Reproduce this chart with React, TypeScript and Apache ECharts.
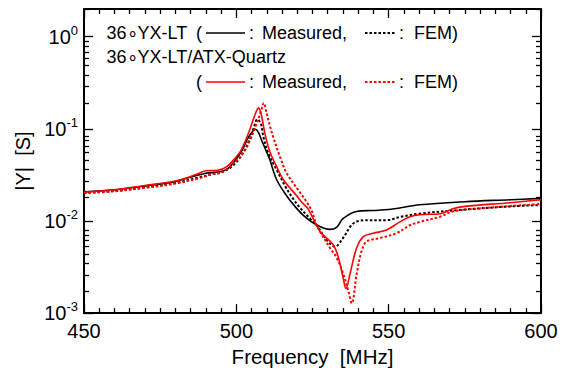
import React, { useEffect, useRef } from 'react';
import * as echarts from 'echarts';

const FONT = '"Liberation Sans", Arial, Helvetica, sans-serif';
const RED = '#ff0000';

const xMin = 450;
const xMax = 600;
const xStep = 50;
const yMin = 0.001;
const yMax = 2;
const yMajorTicks = [0.001, 0.01, 0.1, 1];
const yMinorTicks = [
  0.002, 0.003, 0.004, 0.005, 0.006, 0.007, 0.008, 0.009,
  0.02, 0.03, 0.04, 0.05, 0.06, 0.07, 0.08, 0.09,
  0.2, 0.3, 0.4, 0.5, 0.6, 0.7, 0.8, 0.9, 2,
];

// 36°YX-LT, measured
const ltMeasured = [
  [450, 0.0207], [460, 0.0218], [470, 0.024], [478, 0.026], [485, 0.0299], [490, 0.033],
  [494, 0.034], [497, 0.0366], [499.1, 0.0432], [501.8, 0.0578], [504, 0.0815], [505.6, 0.096],
  [506.3, 0.099], [507.2, 0.092], [508.3, 0.0751], [509.9, 0.0565], [511, 0.0461], [513.2, 0.0282],
  [516.5, 0.0188], [519, 0.0147], [522, 0.0115], [526, 0.0092], [530.7, 0.0081], [533, 0.0086],
  [535, 0.0106], [539.5, 0.0127], [545, 0.013], [550, 0.0133], [554, 0.0139], [560, 0.015],
  [575, 0.0162], [590, 0.017], [600, 0.0176],
];

// 36°YX-LT, FEM
const ltFem = [
  [450, 0.0202], [460, 0.0212], [470, 0.0231], [480, 0.0258], [488, 0.0299], [492, 0.0321],
  [495, 0.0335], [497, 0.0361], [499.1, 0.0406], [501.8, 0.0519], [504, 0.072], [505.6, 0.0998],
  [506.9, 0.127], [508.1, 0.113], [508.9, 0.0815], [510.5, 0.0542], [513.2, 0.0361], [516, 0.024],
  [518.7, 0.0173], [521, 0.0138], [524.2, 0.0106], [526.4, 0.009], [529.6, 0.00625], [532.4, 0.00527],
  [535, 0.00652], [538.4, 0.0094], [542.8, 0.0102], [549, 0.0102], [554, 0.0111], [560, 0.012],
  [575, 0.0133], [590, 0.0144], [600, 0.0149],
];

// 36°YX-LT/ATX-Quartz, measured
const quartzMeasured = [
  [450, 0.0205], [460, 0.0218], [470, 0.0243], [480, 0.0271], [487, 0.0321], [490, 0.0351],
  [494, 0.0355], [497, 0.0391], [499.1, 0.0461], [501.3, 0.0565], [502.8, 0.072], [504.5, 0.0998],
  [505.8, 0.133], [507.3, 0.169], [508.3, 0.138], [509.4, 0.0883], [511, 0.0565], [513.2, 0.0391],
  [515.4, 0.0282], [519.8, 0.0188], [522, 0.0153], [523.5, 0.0136], [525.2, 0.0106], [527.5, 0.00766],
  [531.8, 0.00553], [533.5, 0.004], [535, 0.00246], [536, 0.00184], [537.3, 0.00266], [539.5, 0.00511],
  [541.7, 0.00678], [545, 0.00736], [549.3, 0.00798], [553.7, 0.00977], [557, 0.0111], [560.3, 0.0117],
  [567, 0.012], [571, 0.0136], [575, 0.0144], [590, 0.0158], [600, 0.017],
];

// 36°YX-LT/ATX-Quartz, FEM
const quartzFem = [
  [450, 0.02], [460, 0.021], [470, 0.0229], [480, 0.0255], [488, 0.0292], [492, 0.0321],
  [495, 0.0338], [497, 0.0366], [499.1, 0.0424], [502.2, 0.0542], [504.5, 0.0751], [506.4, 0.108],
  [508.1, 0.156], [509, 0.191], [509.9, 0.15], [511, 0.108], [512.1, 0.0815], [514.3, 0.05],
  [516.5, 0.0332], [520.9, 0.0204], [523.1, 0.016], [524.7, 0.013], [526.4, 0.009], [530.7, 0.00511],
  [532.9, 0.004], [535.1, 0.00266], [536.7, 0.00177], [537.9, 0.00128], [539.5, 0.00266], [541.1, 0.0047],
  [542.8, 0.006], [547.1, 0.00652], [552.6, 0.00736], [557, 0.009], [560.3, 0.00977], [566.8, 0.0111],
  [571, 0.0127], [580, 0.0137], [590, 0.0145], [600, 0.0153],
];

const xTitle = 'Frequency  [MHz]';
const yTitle = '|Y|  [S]';
const legendRow1 = '36∘YX-LT';
const legendRow2 = '36∘YX-LT/ATX-Quartz';

const DOT: number[] = [2.5, 2];

export default function App() {
  const ref = useRef<HTMLDivElement>(null);
  useEffect(() => {
    if (!ref.current) return;
    const chart = echarts.init(ref.current, null, { renderer: 'svg' });
    const gridBox = { left: 84, top: 9, width: 457, height: 311 };
    const txt = (x: number, y: number, text: string) => ({
      type: 'text',
      x,
      y,
      style: { text, fill: '#000', font: `18px ${FONT}`, textVerticalAlign: 'middle', textAlign: 'left' },
    });
    const seg = (x1: number, x2: number, y: number, color: string, dotted: boolean) => ({
      type: 'line',
      shape: { x1, y1: y, x2, y2: y },
      style: { stroke: color, lineWidth: dotted ? 2 : 1.6, lineDash: dotted ? DOT : null },
    });
    const series = [
      { name: 'LT FEM', data: ltFem, color: '#000', dotted: true },
      { name: 'LT Measured', data: ltMeasured, color: '#000', dotted: false },
      { name: 'Quartz FEM', data: quartzFem, color: RED, dotted: true },
      { name: 'Quartz Measured', data: quartzMeasured, color: RED, dotted: false },
    ].map((s) => ({
      type: 'line',
      name: s.name,
      data: s.data,
      xAxisIndex: 0,
      yAxisIndex: 0,
      showSymbol: false,
      smooth: 0.35,
      lineStyle: { color: s.color, width: s.dotted ? 2 : 1.6, type: s.dotted ? DOT : 'solid' },
      itemStyle: { color: s.color },
    }));
    const axisLine = { show: true, onZero: false, lineStyle: { color: '#000', width: 2 } };
    const supLabel = {
      show: true,
      customValues: yMajorTicks,
      margin: 6,
      formatter: (v: number) => `{b|10}{s|${Math.round(Math.log10(v))}}`,
      rich: {
        b: { fontSize: 20, fontFamily: FONT, color: '#000', lineHeight: 20, verticalAlign: 'bottom' },
        s: { fontSize: 13, fontFamily: FONT, color: '#000', lineHeight: 13, verticalAlign: 'bottom', padding: [0, 0, 10, 0] },
      },
    };
    chart.setOption({
      animation: false,
      backgroundColor: '#fff',
      grid: [
        { ...gridBox, containLabel: false },
        { ...gridBox, containLabel: false },
      ],
      xAxis: [
        {
          type: 'value', gridIndex: 0, position: 'bottom', min: xMin, max: xMax, interval: xStep,
          axisLine,
          axisTick: { show: true, inside: true, length: 9, lineStyle: { color: '#000', width: 1.3 } },
          minorTick: { show: true, splitNumber: 10, length: 5, lineStyle: { color: '#000', width: 1.3 } },
          axisLabel: { show: true, margin: 8, fontSize: 20, fontFamily: FONT, color: '#000' },
          splitLine: { show: false },
          name: xTitle, nameLocation: 'middle', nameGap: 22,
          nameTextStyle: { fontSize: 20.5, fontFamily: FONT, color: '#000' },
        },
        {
          type: 'value', gridIndex: 0, position: 'top', min: xMin, max: xMax, interval: xStep,
          axisLine,
          axisTick: { show: true, inside: true, length: 9, lineStyle: { color: '#000', width: 1.3 } },
          minorTick: { show: true, splitNumber: 10, length: 5, lineStyle: { color: '#000', width: 1.3 } },
          axisLabel: { show: false },
          splitLine: { show: false },
        },
        { type: 'value', gridIndex: 1, min: xMin, max: xMax, show: false },
      ],
      yAxis: [
        {
          type: 'log', logBase: 10, gridIndex: 0, position: 'left', min: yMin, max: yMax,
          axisLine,
          axisTick: { show: true, inside: true, length: 9, customValues: yMajorTicks, lineStyle: { color: '#000', width: 1.3 } },
          axisLabel: supLabel,
          splitLine: { show: false },
          name: yTitle, nameLocation: 'middle', nameGap: 46, nameRotate: 90,
          nameTextStyle: { fontSize: 20, fontFamily: FONT, color: '#000' },
        },
        {
          type: 'log', logBase: 10, gridIndex: 0, position: 'right', min: yMin, max: yMax,
          axisLine,
          axisTick: { show: true, inside: true, length: 9, customValues: yMajorTicks, lineStyle: { color: '#000', width: 1.3 } },
          axisLabel: { show: false },
          splitLine: { show: false },
        },
        {
          type: 'log', logBase: 10, gridIndex: 1, position: 'left', min: yMin, max: yMax,
          axisLine: { show: false, onZero: false },
          axisTick: { show: true, inside: true, length: 5, customValues: yMinorTicks, lineStyle: { color: '#000', width: 1.3 } },
          axisLabel: { show: false },
          splitLine: { show: false },
        },
        {
          type: 'log', logBase: 10, gridIndex: 1, position: 'right', min: yMin, max: yMax,
          axisLine: { show: false, onZero: false },
          axisTick: { show: true, inside: true, length: 5, customValues: yMinorTicks, lineStyle: { color: '#000', width: 1.3 } },
          axisLabel: { show: false },
          splitLine: { show: false },
        },
      ],
      series,
      graphic: [
        txt(106.5, 33, legendRow1),
        txt(196, 33, '('),
        seg(206, 245, 33, '#000', false),
        txt(249, 33, ':'),
        txt(262, 33, 'Measured,'),
        seg(365, 396, 33, '#000', true),
        txt(399, 33, ':'),
        txt(414, 33, 'FEM)'),
        txt(106.5, 57, legendRow2),
        txt(196, 82, '('),
        seg(206, 245, 82, RED, false),
        txt(249, 82, ':'),
        txt(262, 82, 'Measured,'),
        seg(365, 396, 82, RED, true),
        txt(399, 82, ':'),
        txt(414, 82, 'FEM)'),
      ],
    });
    return () => chart.dispose();
  }, []);
  return (
    <div
      ref={ref}
      style={{ position: 'fixed', left: 0, top: 0, width: 563, height: 372, background: '#fff' }}
    />
  );
}
